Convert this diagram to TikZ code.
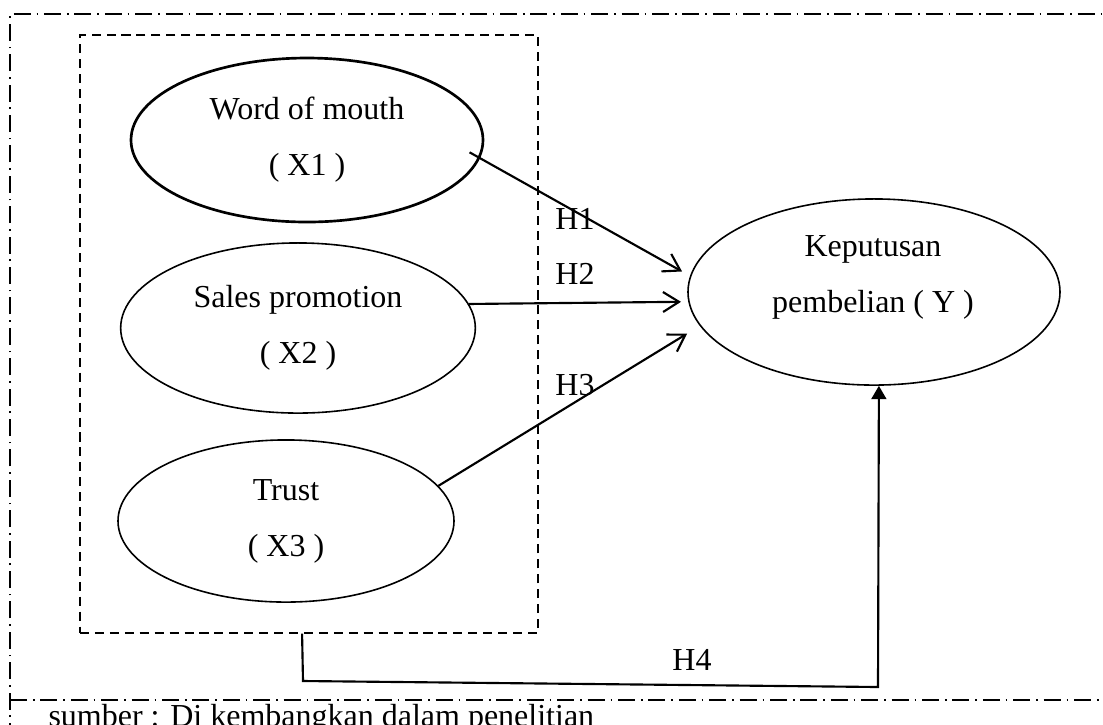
\documentclass[tikz,border=0pt]{standalone}
\usepackage{fontspec}
\setmainfont{Liberation Serif}
\usetikzlibrary{shapes.geometric,arrows.meta}
\tikzset{
  var/.style={ellipse, draw, line width=0.6pt, inner sep=0pt, align=center,
    font=\fontsize{12}{21}\selectfont},
  hyp/.style={line width=0.8pt, -{Straight Barb[length=6pt,width=7.5pt]}},
  hfour/.style={line width=0.8pt, -{Triangle[length=5pt,width=5.6pt]}},
  lbl/.style={inner sep=0pt, font=\fontsize{12}{14}\selectfont},
  frameline/.style={line width=0.7pt, dash pattern=on 6.4pt off 2.2pt on 0.6pt off 2.2pt},
}
\begin{document}
\begin{tikzpicture}[x=0.375pt,y=-0.375pt]
  \clip (0,0) rectangle (1103,724);
  % outer frame
  \draw[frameline] (10,740) -- (10,14) -- (1120,14);
  \draw[frameline] (10,700) -- (1120,700);
  % group of independent variables
  \node[draw, line width=0.5pt, dash pattern=on 3.4pt off 2.2pt,
        minimum width=171.75pt, minimum height=224.25pt, inner sep=0pt] (grp) at (309,334) {};
  \node[var, line width=1pt, minimum width=132pt, minimum height=61.5pt] (x1) at (307,140)
    {Word of mouth\\( X1 )};
  \node[var, minimum width=133pt, minimum height=63.8pt] (x2) at (298,328)
    {Sales promotion\\( X2 )};
  \node[var, minimum width=126pt, minimum height=60.8pt] (x3) at (286,521)
    {Trust\\( X3 )};
  \node[var, minimum width=139.5pt, minimum height=69.8pt] (y) at (874,292) {};
  \node[lbl, align=center, font=\fontsize{12}{21}\selectfont] (ytxt) at (873,277)
    {Keputusan\\pembelian ( Y )};
  % hypotheses
  \begin{scope}[hyp]
    \draw[shorten <=-4.5pt, shorten >=3.4pt] (x1.-6) -- (y.175);
    \draw[shorten >=2.7pt] (x2.8.4) -- (y.183.3);
    \draw[shorten >=5.6pt] (x3.13.9) -- (y.191.5);
  \end{scope}
  \draw[hfour] ([xshift=-2.6pt]grp.south) -- (303,681) -- (878,687) -- (y.-87.5);
  \node[lbl] (h1) at (575,219) {H1};
  \node[lbl] (h2) at (575,274) {H2};
  \node[lbl] (h3) at (575,385) {H3};
  \node[lbl] (h4) at (692,660) {H4};
  \node[lbl, anchor=base west] (src) at (48,726) {sumber : Di kembangkan dalam penelitian};
\end{tikzpicture}
\end{document}
